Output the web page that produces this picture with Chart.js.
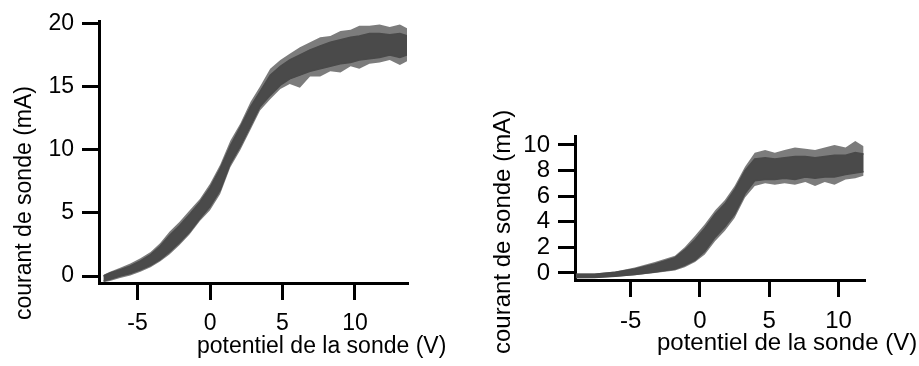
<!DOCTYPE html>
<html>
<head>
<meta charset="utf-8">
<script src="https://cdn.jsdelivr.net/npm/chart.js@4.4.1/dist/chart.umd.min.js"></script>
<style>
html, body { margin: 0; padding: 0; background: #ffffff; width: 919px; height: 366px; overflow: hidden; }
#leftPanel { position: absolute; left: 0px; top: 0px; }
#rightPanel { position: absolute; left: 470px; top: 0px; }
</style>
</head>
<body>
<canvas id="leftPanel" width="470" height="366"></canvas>
<canvas id="rightPanel" width="449" height="366"></canvas>
<script>
// ---------- data ----------
// Left panel: probe potential (V); dense core of the current band and sparse outer envelope (mA)
const leftPotential  = [-7.35, -6.9, -6.2, -5.5, -4.8, -4.1, -3.45, -2.8, -2.1, -1.4, -0.7, 0, 0.7, 1.4, 2.1, 2.8, 3.45, 4.15, 4.85, 5.5, 6.2, 6.9, 7.6, 8.3, 9.0, 9.7, 10.3, 11.0, 11.7, 12.4, 13.1, 13.6];
const leftCoreHigh   = [0.0, 0.25, 0.5, 0.8, 1.2, 1.7, 2.35, 3.2, 4.0, 4.9, 5.85, 7.0, 8.5, 10.3, 11.8, 13.4, 14.6, 15.9, 16.6, 17.1, 17.5, 17.9, 18.2, 18.5, 18.7, 18.9, 19.0, 19.2, 19.2, 19.1, 19.2, 19.0];
const leftCoreLow    = [-0.4, -0.25, 0.0, 0.2, 0.5, 0.85, 1.3, 1.9, 2.65, 3.5, 4.55, 5.5, 6.8, 8.9, 10.3, 11.9, 13.4, 14.3, 15.1, 15.6, 15.9, 16.2, 16.4, 16.6, 16.8, 16.9, 17.1, 17.2, 17.3, 17.5, 17.3, 17.5];
const leftOuterHigh  = [0.1, 0.35, 0.65, 1.0, 1.4, 1.9, 2.6, 3.5, 4.3, 5.2, 6.1, 7.3, 8.8, 10.7, 12.1, 13.8, 15.0, 16.4, 17.1, 17.6, 18.1, 18.5, 18.9, 19.0, 19.4, 19.5, 19.8, 19.8, 19.9, 19.7, 19.9, 19.6];
const leftOuterLow   = [-0.5, -0.4, -0.15, 0.05, 0.35, 0.7, 1.15, 1.7, 2.45, 3.3, 4.35, 5.2, 6.5, 8.6, 10.0, 11.6, 13.1, 14.0, 14.8, 15.2, 14.9, 15.8, 15.8, 16.2, 16.1, 16.6, 16.4, 16.8, 16.9, 17.1, 16.7, 17.0];

// Right panel
const rightPotential = [-8.95, -7.6, -6.1, -4.7, -3.25, -1.8, -1.1, -0.35, 0.35, 1.1, 1.8, 2.5, 3.25, 3.95, 4.7, 5.4, 6.1, 6.85, 7.6, 8.3, 9.0, 9.7, 10.5, 11.2, 11.8];
const rightCoreHigh  = [-0.1, -0.1, 0.05, 0.32, 0.7, 1.2, 1.8, 2.6, 3.5, 4.6, 5.4, 6.5, 8.0, 8.9, 9.0, 8.9, 9.0, 9.1, 9.1, 9.0, 9.1, 9.2, 9.2, 9.4, 9.3];
const rightCoreLow   = [-0.35, -0.35, -0.25, -0.12, 0.07, 0.3, 0.6, 1.0, 1.7, 2.8, 3.6, 4.6, 6.2, 7.2, 7.3, 7.3, 7.4, 7.3, 7.5, 7.4, 7.5, 7.5, 7.7, 7.8, 7.9];
const rightOuterHigh = [-0.05, -0.05, 0.12, 0.42, 0.85, 1.35, 2.0, 2.9, 3.8, 4.9, 5.7, 6.8, 8.3, 9.4, 9.6, 9.4, 9.6, 9.8, 9.7, 9.6, 9.8, 10.0, 9.8, 10.3, 9.9];
const rightOuterLow  = [-0.42, -0.4, -0.3, -0.18, 0.0, 0.2, 0.45, 0.85, 1.45, 2.5, 3.3, 4.3, 5.9, 6.8, 7.0, 6.9, 7.0, 6.9, 7.1, 6.8, 7.1, 6.9, 7.3, 7.4, 7.6];

// Tick values
const leftXTicks  = [-5, 0, 5, 10];
const leftYTicks  = [0, 5, 10, 15, 20];
const rightXTicks = [-5, 0, 5, 10];
const rightYTicks = [0, 2, 4, 6, 8, 10];

// Axis titles
const xAxisTitle = 'potentiel de la sonde (V)';
const yAxisTitle = 'courant de sonde (mA)';

// ---------- styling ----------
const FONT = '"Liberation Sans", Arial, Helvetica, sans-serif';
const CORE = '#4a4a4a';
const OUTER = 'rgba(74,74,74,0.72)';
Chart.defaults.font.family = FONT;
Chart.defaults.color = '#000';

const titlePlugin = {
  id: 'axisTitles',
  afterDraw(chart, args, opts) {
    const ctx = chart.ctx;
    ctx.save();
    ctx.fillStyle = '#000';
    ctx.font = opts.size + 'px ' + FONT;
    ctx.textBaseline = 'alphabetic';
    ctx.textAlign = 'left';
    (opts.items || []).forEach(it => {
      ctx.save();
      ctx.translate(it.x, it.y);
      if (it.rotate) ctx.rotate(-Math.PI / 2);
      ctx.fillText(it.text, 0, 0);
      ctx.restore();
    });
    ctx.restore();
  }
};

function toPoints(xs, ys) { return xs.map((x, i) => ({ x: x, y: ys[i] })); }

function axis(min, max, ticks, fitProp, fitValue, tickPad, fontSize) {
  return {
    type: 'linear',
    min: min,
    max: max,
    grace: 0,
    afterBuildTicks: s => { s.ticks = ticks.map(v => ({ value: v })); },
    afterFit: s => { s[fitProp] = fitValue; },
    ticks: {
      font: { size: fontSize, lineHeight: 1.2 },
      color: '#000',
      padding: tickPad,
      maxRotation: 0,
      minRotation: 0,
      autoSkip: false,
      callback: v => String(v)
    },
    grid: {
      display: true,
      drawOnChartArea: false,
      drawTicks: true,
      tickLength: 17,
      tickWidth: 3,
      tickColor: '#000',
      lineWidth: 3,
      color: '#000'
    },
    border: { display: true, color: '#000', width: 3 },
    title: { display: false }
  };
}

function makePanel(id, pot, coreHi, coreLo, outerHi, outerLo, xr, yr, xTicks, yTicks, yWidth, xHeight, padding, fontSize, titles) {
  return new Chart(document.getElementById(id), {
    type: 'line',
    data: {
      datasets: [
        { data: toPoints(pot, coreHi), borderColor: CORE, borderWidth: 1.5, pointRadius: 0, fill: false, tension: 0 },
        { data: toPoints(pot, coreLo), borderColor: CORE, borderWidth: 1.5, pointRadius: 0, fill: '-1', backgroundColor: CORE, tension: 0 },
        { data: toPoints(pot, outerHi), borderColor: OUTER, borderWidth: 0, pointRadius: 0, fill: false, tension: 0 },
        { data: toPoints(pot, outerLo), borderColor: OUTER, borderWidth: 0, pointRadius: 0, fill: '-1', backgroundColor: OUTER, tension: 0 }
      ]
    },
    options: {
      responsive: false,
      devicePixelRatio: 1,
      animation: false,
      events: [],
      layout: { padding: padding },
      plugins: {
        legend: { display: false },
        tooltip: { enabled: false },
        axisTitles: { size: fontSize, items: titles }
      },
      scales: {
        x: axis(xr[0], xr[1], xTicks, 'height', xHeight, 10, fontSize),
        y: axis(yr[0], yr[1], yTicks, 'width', yWidth, 8, fontSize)
      }
    },
    plugins: [titlePlugin]
  });
}

makePanel('leftPanel', leftPotential, leftCoreHigh, leftCoreLow, leftOuterHigh, leftOuterLow,
  [-7.66, 13.59], [-0.55, 20.12], leftXTicks, leftYTicks,
  99, 83, { top: 18, left: 0, right: 63, bottom: 0 }, 23,
  [
    { text: xAxisTitle, x: 197, y: 353, rotate: false },
    { text: yAxisTitle, x: 31, y: 320, rotate: true }
  ]);

makePanel('rightPanel', rightPotential, rightCoreHigh, rightCoreLow, rightOuterHigh, rightOuterLow,
  [-9.01, 11.83], [-0.55, 10.7], rightXTicks, rightYTicks,
  105, 86, { top: 136, left: 0, right: 55, bottom: 0 }, 24,
  [
    { text: xAxisTitle, x: 187, y: 350, rotate: false },
    { text: yAxisTitle, x: 40, y: 354, rotate: true }
  ]);
</script>
</body>
</html>
